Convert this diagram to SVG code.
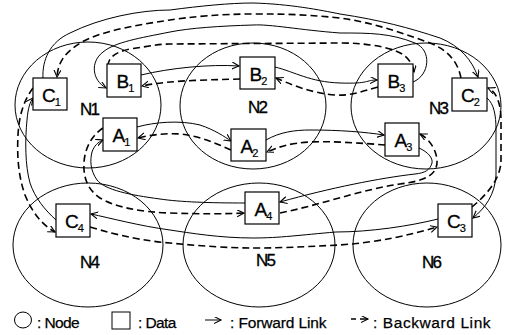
<svg xmlns="http://www.w3.org/2000/svg" width="506" height="335" viewBox="0 0 506 335">
<style>
.node{fill:none;stroke:#000;stroke-width:1}
.box{fill:#fff;stroke:#000;stroke-width:1.2}
.nl{font-family:"Liberation Sans",Arial,sans-serif;font-size:17px;letter-spacing:-1.8px;fill:#000;stroke:#000;stroke-width:0.35}
.dl{font-family:"Liberation Sans",Arial,sans-serif;font-size:19px;letter-spacing:-0.8px;fill:#000;stroke:#000;stroke-width:0.3;text-anchor:middle}
.sub{font-size:11px;stroke-width:0.2}
.fw{fill:none;stroke:#000;stroke-width:1;marker-end:url(#ah)}
.bw{fill:none;stroke:#000;stroke-width:1.6;stroke-dasharray:7 4;marker-end:url(#ah)}
.lg{font-family:"Liberation Sans",Arial,sans-serif;font-size:15.5px;letter-spacing:-0.6px;fill:#000;stroke:#000;stroke-width:0.25}
</style>
<defs>
<marker id="ah" markerUnits="userSpaceOnUse" markerWidth="9" markerHeight="9" refX="7" refY="3.5" orient="auto">
<path d="M0,0 L7,3.5 L0,7" fill="none" stroke="#000" stroke-width="1.1"/>
</marker>
</defs>
<rect width="506" height="335" fill="#fff"/>
<g id="N1"><ellipse class="node" cx="88" cy="105" rx="73" ry="63"/><text class="nl" x="80" y="115">N1</text></g>
<g id="N2"><ellipse class="node" cx="253" cy="106" rx="73" ry="63"/><text class="nl" x="248" y="113">N2</text></g>
<g id="N3"><ellipse class="node" cx="426" cy="106" rx="75" ry="63"/><text class="nl" x="429" y="114">N3</text></g>
<g id="N4"><ellipse class="node" cx="88" cy="245" rx="75" ry="62"/><text class="nl" x="80" y="268">N4</text></g>
<g id="N5"><ellipse class="node" cx="259" cy="245" rx="76" ry="62"/><text class="nl" x="256" y="266">N5</text></g>
<g id="N6"><ellipse class="node" cx="427" cy="245" rx="74" ry="62"/><text class="nl" x="422" y="268">N6</text></g>
<g id="links">
<path class="fw" d="M141,75 C170,68 210,64 239,66"/>
<path class="bw" d="M240,79 C210,80 170,80 142,86"/>
<path class="fw" d="M275,67 C295,72 310,82 340,83 S365,80 377,80"/>
<path class="bw" d="M378,87 C360,92 350,96 335,95 C310,93 290,84 276,78"/>
<path class="fw" d="M413,82 C430,75 432,50 415,43 C390,33 370,33 340,33 C300,30 270,24 253,25 C220,26 190,28 170,32 C140,38 115,42 103,52 C90,62 92,80 106,88"/>
<path class="bw" d="M108,66 C108,58 115,52 130,49 C150,46 160,44 170,44 L340,43 C370,43 395,48 405,56 C410,60 413,66 414,72"/>
<path class="fw" d="M43,78 C42,60 50,42 70,33 C100,18 140,10 170,10 C200,6 230,3 253,3 C290,4 320,10 340,14 C380,20 410,28 440,38 C460,46 472,60 478,77"/>
<path class="bw" d="M461,78 C458,62 448,50 430,43 C400,32 370,22 340,18 C300,14 280,14 253,14 C220,14 190,17 170,20 C130,26 100,32 82,42 C65,52 58,62 57,77"/>
<path class="fw" d="M487,98 C494,104 496,115 496,130 L496,175 C495,195 485,208 473,218"/>
<path class="bw" d="M472,207 C485,196 501,180 501,160 L501,120 C501,105 497,92 488,88"/>
<path class="fw" d="M438,219 C410,226 370,232 336,232 C300,235 280,238 253,238 C220,238 190,233 170,230 C140,226 110,218 91,214"/>
<path class="bw" d="M90,227 C120,236 145,241 170,243 C200,246 230,248 253,248 C290,248 315,246 340,245 C380,242 410,235 437,227"/>
<path class="fw" d="M56,220 C45,210 35,198 30,183 C25,165 25,140 27,120 C28,108 30,102 33,98"/>
<path class="bw" d="M33,88 C24,100 19,115 18,135 C17,155 18,175 25,195 C32,212 42,225 55,232"/>
<path class="fw" d="M137,127 C155,122 180,120 200,125 C215,130 225,137 231,141"/>
<path class="bw" d="M231,150 C215,143 200,136 180,134 C165,133 150,135 138,138"/>
<path class="fw" d="M266,140 C280,132 295,130 310,130 C340,130 365,132 384,135"/>
<path class="bw" d="M385,145 C360,143 330,141 310,142 C290,143 278,147 267,152"/>
<path class="fw" d="M419,148 C428,152 433,158 432,163 C430,170 425,173 415,174 C380,178 330,188 280,202"/>
<path class="bw" d="M280,213 C320,205 360,190 400,184 C425,181 438,175 437,160 C436,148 428,138 420,134"/>
<path class="fw" d="M245,203 C210,203 180,202 160,199 C130,195 105,190 97,180 C90,170 90,160 92,152 C94,146 98,142 103,140"/>
<path class="bw" d="M103,128 C92,135 85,148 84,162 C83,178 88,190 100,198 C115,207 140,212 170,213 C200,214 225,214 244,213"/>
</g>
<g id="C1"><rect class="box" x="33" y="78" width="34" height="32"/><text class="dl" x="51" y="102">C<tspan class="sub" dy="4">1</tspan></text></g>
<g id="B1"><rect class="box" x="107" y="64" width="34" height="33"/><text class="dl" x="125" y="88">B<tspan class="sub" dy="4">1</tspan></text></g>
<g id="A1"><rect class="box" x="103" y="118" width="34" height="33"/><text class="dl" x="121" y="142">A<tspan class="sub" dy="4">1</tspan></text></g>
<g id="B2"><rect class="box" x="240" y="57" width="35" height="32"/><text class="dl" x="258" y="81">B<tspan class="sub" dy="4">2</tspan></text></g>
<g id="A2"><rect class="box" x="231" y="129" width="35" height="32"/><text class="dl" x="249" y="153">A<tspan class="sub" dy="4">2</tspan></text></g>
<g id="B3"><rect class="box" x="378" y="64" width="35" height="33"/><text class="dl" x="396" y="88">B<tspan class="sub" dy="4">3</tspan></text></g>
<g id="C2"><rect class="box" x="452" y="78" width="35" height="33"/><text class="dl" x="470" y="102">C<tspan class="sub" dy="4">2</tspan></text></g>
<g id="A3"><rect class="box" x="385" y="123" width="34" height="33"/><text class="dl" x="403" y="147">A<tspan class="sub" dy="4">3</tspan></text></g>
<g id="C4"><rect class="box" x="56" y="204" width="34" height="33"/><text class="dl" x="74" y="228">C<tspan class="sub" dy="4">4</tspan></text></g>
<g id="A4"><rect class="box" x="245" y="192" width="34" height="32"/><text class="dl" x="263" y="216">A<tspan class="sub" dy="4">4</tspan></text></g>
<g id="C3"><rect class="box" x="438" y="204" width="34" height="33"/><text class="dl" x="456" y="228">C<tspan class="sub" dy="4">3</tspan></text></g>
<g id="legend">
<ellipse class="node" cx="23" cy="320" rx="8.5" ry="8"/>
<text class="lg" x="37" y="328">: Node</text>
<rect class="node" x="112" y="312" width="18" height="17"/>
<text class="lg" x="138" y="328">: Data</text>
<path class="fw" d="M205,320 L221,320"/>
<text class="lg" x="230" y="328" textLength="96">: Forward Link</text>
<path d="M351,319 L356,319" stroke="#000" stroke-width="1.5"/>
<path d="M360,319 L368,319" stroke="#000" stroke-width="1.5" marker-end="url(#ah)"/>
<text class="lg" x="373" y="328" textLength="117">: Backward Link</text>
</g>
</svg>
